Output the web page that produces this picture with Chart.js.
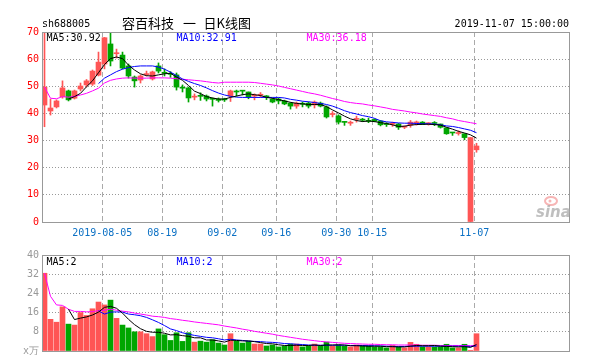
<!DOCTYPE html>
<html><head><meta charset="utf-8">
<script src="https://cdn.jsdelivr.net/npm/chart.js@4/dist/chart.umd.min.js"></script>
<style>
html,body{margin:0;padding:0;background:#fff;overflow:hidden;width:607px;height:355px;position:relative;}
#c1{position:absolute;left:0;top:0;width:607px;height:245px;}
#c2{position:absolute;left:0;top:245px;width:607px;height:140px;}
</style></head><body>
<canvas id="c1" width="607" height="245"></canvas>
<canvas id="c2" width="607" height="140"></canvas>
<script>
// ---------------- data ----------------
const dates = ['2019-07-22','2019-07-23','2019-07-24','2019-07-25','2019-07-26','2019-07-29','2019-07-30','2019-07-31',
'2019-08-01','2019-08-02','2019-08-05','2019-08-06','2019-08-07','2019-08-08','2019-08-09',
'2019-08-12','2019-08-13','2019-08-14','2019-08-15','2019-08-16',
'2019-08-19','2019-08-20','2019-08-21','2019-08-22','2019-08-23',
'2019-08-26','2019-08-27','2019-08-28','2019-08-29','2019-08-30',
'2019-09-02','2019-09-03','2019-09-04','2019-09-05','2019-09-06',
'2019-09-09','2019-09-10','2019-09-11','2019-09-12',
'2019-09-16','2019-09-17','2019-09-18','2019-09-19','2019-09-20',
'2019-09-23','2019-09-24','2019-09-25','2019-09-26','2019-09-27',
'2019-09-30',
'2019-10-08','2019-10-09','2019-10-10','2019-10-11',
'2019-10-14','2019-10-15','2019-10-16','2019-10-17','2019-10-18',
'2019-10-21','2019-10-22','2019-10-23','2019-10-24','2019-10-25',
'2019-10-28','2019-10-29','2019-10-30','2019-10-31',
'2019-11-01','2019-11-04','2019-11-05','2019-11-06','2019-11-07'];

const tickDates  = ['2019-08-05','2019-08-19','2019-09-02','2019-09-16','2019-09-30','2019-10-15','2019-11-07'];
const tickLabels = ['2019-08-05','08-19','09-02','09-16','09-30','10-15','11-07'];
const priceTicks = [0,10,20,30,40,50,60,70];
const volTicks   = [0,8,16,24,32,40];

const opens  = [43.1,40.9,42.4,46.1,48.3,45.6,49.0,50.5,50.8,54.1,58.2,65.6,62.0,61.5,57.5,53.4,52.3,54.3,52.7,57.5,
55.1,54.7,54.2,49.6,49.4,46.0,46.6,46.4,45.4,45.3,45.3,46.4,48.1,48.4,47.9,46.4,46.7,46.3,45.3,45.3,
44.6,43.8,42.7,43.6,43.8,43.1,43.8,42.4,39.6,39.1,36.9,36.4,37.8,37.9,37.4,37.8,37.2,36.0,36.0,36.1,
34.9,35.7,36.5,36.8,36.2,36.5,36.1,34.7,32.9,32.6,32.5,0,26.6];
const highs  = [70,45.3,45.0,52.0,48.6,48.6,51.2,52.5,56.0,62.6,68.0,70,63.7,62.6,58.2,53.8,54.2,55.6,55.6,58.6,
56.4,55.4,54.9,50.5,49.7,47.2,47.6,46.8,45.7,45.7,45.6,48.6,48.6,48.4,47.9,47.2,47.7,46.6,45.6,45.7,
44.9,44.0,44.2,44.2,44.2,44.6,44.2,42.8,40.7,39.5,37.0,37.2,39.0,38.2,38.3,38.0,37.4,36.6,36.8,36.3,
35.4,37.4,37.2,37.0,36.6,37.0,36.1,34.7,32.9,33.6,32.5,31.1,29.0];
const lows   = [35.1,39.4,42.0,45.6,44.6,45.3,48.3,49.8,50.3,53.8,56.4,57.5,60.4,56.4,53.0,49.7,51.2,53.8,52.3,54.9,
53.8,53.3,48.6,47.9,44.2,45.0,44.8,44.6,42.7,44.2,44.4,44.4,46.4,46.8,45.4,45.0,46.0,45.1,43.9,43.5,
43.2,41.6,41.9,42.4,42.0,42.0,42.4,38.3,38.7,36.1,35.6,35.6,36.8,37.0,36.6,36.9,35.4,35.2,35.2,34.1,
34.4,34.9,35.7,35.9,35.7,35.5,34.6,32.3,31.9,32.0,30.3,0,25.7];
const closes = [49.7,42.0,44.6,49.4,45.0,48.3,50.1,52.0,55.6,58.9,67.9,59.3,62.3,56.7,53.8,52.0,53.8,54.6,55.3,55.6,
54.8,54.4,49.7,49.3,45.7,46.3,46.3,45.3,45.2,44.8,45.0,48.3,47.9,48.2,46.1,46.7,47.0,46.1,44.2,44.6,
43.5,42.7,43.8,43.4,42.7,44.2,42.7,38.7,39.9,36.8,36.7,36.6,38.0,37.5,37.1,37.1,35.8,35.9,36.2,34.9,
35.1,36.8,36.7,35.9,36.4,36.3,34.9,32.5,32.8,32.9,31.1,31.1,28.0];

const ma5  = [null,null,null,null,45.3,46.2,47.4,49.8,52.0,55.0,58.0,60.2,60.8,60.2,57.8,56.0,54.6,53.9,53.8,54.2,
54.6,54.8,53.4,52.2,50.3,48.2,47.3,46.2,45.7,45.3,45.3,45.9,46.4,46.9,47.2,46.9,46.6,45.9,45.6,45.1,
44.6,44.1,43.7,43.5,43.3,43.3,43.3,42.5,41.3,40.2,39.0,38.0,37.4,37.0,37.2,37.0,36.6,36.3,35.8,35.2,
35.3,35.7,35.9,36.0,36.0,35.9,35.7,34.9,34.2,33.4,32.8,32.1,30.9];
const ma10 = [null,null,null,null,null,null,null,null,null,51.0,53.0,54.2,55.4,56.3,56.9,57.3,57.5,57.5,57.5,57.1,
56.3,55.2,54.0,52.7,51.8,51.0,50.3,49.4,48.4,47.5,46.8,46.3,46.0,45.9,45.9,45.9,45.9,45.9,45.9,45.9,
45.7,45.2,44.9,44.5,44.3,44.0,43.7,43.3,42.7,41.9,41.0,40.3,39.8,39.2,38.8,38.2,37.3,36.9,36.7,36.5,
36.4,36.4,36.3,36.2,36.2,36.1,35.8,35.4,35.2,34.8,34.3,33.8,32.9];
const ma30 = [49.7,45.6,45.4,46.2,46.0,46.3,46.8,47.4,48.3,49.3,51.2,52.2,52.7,53.0,53.1,53.0,53.0,53.0,53.1,53.1,
53.1,53.0,52.8,52.6,52.4,52.2,52.0,51.7,51.4,51.2,51.5,51.5,51.5,51.5,51.5,51.4,51.1,50.8,50.5,50.1,
49.6,49.1,48.6,48.1,47.6,47.2,46.7,46.1,45.5,45.0,44.4,44.0,43.7,43.5,43.1,42.8,42.4,42.0,41.5,41.2,
40.9,40.5,40.2,39.8,39.5,39.2,38.9,38.4,38.0,37.4,37.0,36.6,36.2];

const vols = [32.4,13.2,12.0,18.4,11.2,10.8,16.0,14.8,17.6,20.4,19.2,21.2,13.6,10.8,9.6,8.0,8.0,7.2,6.0,9.2,
6.8,4.4,7.6,4.0,7.6,3.7,4.1,3.7,4.7,3.3,2.5,7.2,4.1,3.3,4.1,2.9,2.9,2.1,2.5,1.7,
2.1,2.9,2.9,1.7,2.1,2.9,2.1,3.7,2.1,2.5,2.0,1.7,2.5,2.1,2.1,1.7,1.7,1.3,2.3,1.7,
1.3,3.6,2.8,1.7,1.7,1.7,1.7,2.8,1.3,1.3,2.8,0.3,7.2];
const vma5  = [null,null,null,null,17.4,13.1,13.7,14.2,15.0,16.2,18.2,18.6,17.8,15.8,13.2,11.0,9.3,8.2,7.8,7.8,
7.4,6.7,6.8,6.4,6.1,5.5,5.5,4.6,4.6,4.2,3.7,4.5,4.4,4.2,4.2,3.9,3.5,3.1,3.0,2.6,
2.3,2.3,2.4,2.3,2.3,2.5,2.3,2.5,2.5,2.6,2.5,2.2,2.2,2.1,2.0,2.0,2.0,1.8,1.8,1.7,
1.7,2.0,2.3,2.2,2.2,2.3,2.0,1.9,1.8,1.7,1.8,1.5,2.7];
const vma10 = [null,null,null,null,null,null,null,null,null,16.7,15.4,16.2,16.3,16.2,15.4,15.1,14.7,14.0,13.0,11.9,
10.6,9.2,8.5,7.6,7.0,6.5,6.1,5.7,5.5,5.1,4.6,4.9,4.6,4.4,4.1,4.0,3.9,3.7,3.6,3.4,
3.1,3.0,2.8,2.7,2.5,2.4,2.4,2.4,2.4,2.4,2.4,2.3,2.3,2.3,2.2,2.2,2.1,2.0,1.9,1.9,
1.9,2.0,2.0,2.0,2.0,2.0,2.0,2.0,2.0,2.0,2.0,1.9,2.1];
const vma30 = [32.4,22.8,19.2,19.0,17.4,16.5,16.5,16.3,16.4,16.8,17.0,17.4,17.0,16.6,16.3,15.8,15.4,15.0,14.5,14.3,
14.0,13.5,13.2,12.8,12.5,12.1,11.8,11.5,11.2,10.9,10.4,10.0,9.6,9.1,8.7,8.2,7.8,7.4,7.0,6.5,
6.1,5.7,5.3,4.9,4.6,4.3,4.0,3.8,3.6,3.4,3.2,3.1,3.0,2.9,2.8,2.8,2.7,2.6,2.6,2.5,
2.5,2.5,2.5,2.4,2.4,2.4,2.3,2.3,2.3,2.3,2.3,2.2,2.4];

const legendPrice = ['MA5:30.92','MA10:32.91','MA30:36.18'];
const legendVol   = ['MA5:2','MA10:2','MA30:2'];

// ---------------- styling ----------------
const RED = '#ff5555', GREEN = '#00a600';
const MONO = '"DejaVu Sans Mono", monospace';
const CJK = '"Noto Sans CJK SC", sans-serif';
const candleColors = closes.map((c, i) => c >= opens[i] ? RED : GREEN);
const tickIdx = tickDates.map(d => dates.indexOf(d));
const GRID_SHIFT = -0.37;
const X_MIN = -0.25, X_MAX = 87.417;

const pts = arr => arr.map((v, i) => ({x: i, y: v}));
const lineDS = (label, arr, color) => ({type: 'line', label, data: pts(arr), borderColor: color, borderWidth: 1,
  pointRadius: 0, tension: 0, spanGaps: false, order: 0});

function xScale(height, showLabels) {
  return {
    type: 'linear', min: X_MIN, max: X_MAX, offset: false,
    afterBuildTicks: s => { s.ticks = tickIdx.map(i => ({value: i + GRID_SHIFT})); },
    afterFit: s => { s.height = height; },
    ticks: {display: showLabels, autoSkip: false, maxRotation: 0, color: '#0b70c4',
      font: {family: MONO, size: 10}, padding: 5, callback: (v, idx) => tickLabels[idx]},
    grid: {color: '#aaaaaa', lineWidth: 1, drawTicks: false, offset: false},
    border: {display: false, dash: [5, 3]}
  };
}
function yScale(ticksArr, color, labelFn) {
  const lo = ticksArr[0], hi = ticksArr[ticksArr.length - 1];
  return {
    min: lo, max: hi,
    afterBuildTicks: s => { s.ticks = ticksArr.map(v => ({value: v})); },
    afterFit: s => { s.width = 43; },
    ticks: {color, font: {family: MONO, size: 10}, padding: 4, callback: labelFn},
    grid: {color: c => (c.tick && (c.tick.value === lo || c.tick.value === hi)) ? 'rgba(0,0,0,0)' : '#999999',
      drawTicks: false, lineWidth: 1},
    border: {display: false, dash: [1, 2]}
  };
}
function frame(ctx, a) {
  ctx.strokeStyle = '#999999'; ctx.lineWidth = 1; ctx.setLineDash([]);
  ctx.strokeRect(a.left - 0.5, a.top + 0.5, a.right - a.left + 1, a.bottom - a.top);
}
function legend(ctx, a, texts, baseline) {
  const cols = ['#000000', '#0000ff', '#ff00ff'];
  const offs = [3.5, 133.5, 263.5];
  ctx.font = '10px ' + MONO; ctx.textAlign = 'left'; ctx.textBaseline = 'alphabetic';
  texts.forEach((t, k) => { ctx.fillStyle = cols[k]; ctx.fillText(t, a.left + offs[k], baseline); });
}

const pricePlugin = {
  id: 'priceDeco',
  afterDraw(chart) {
    const ctx = chart.ctx, a = chart.chartArea;
    ctx.save();
    frame(ctx, a);
    legend(ctx, a, legendPrice, a.top + 8.5);
    // titles
    ctx.fillStyle = '#000'; ctx.textBaseline = 'alphabetic';
    ctx.font = '10px ' + MONO; ctx.textAlign = 'left';
    ctx.fillText('sh688005', a.left - 1, a.top - 5);
    ctx.textAlign = 'right';
    ctx.fillText('2019-11-07 15:00:00', a.right, a.top - 5);
    ctx.textAlign = 'left'; ctx.font = '13px ' + CJK;
    ctx.fillText('容百科技', 122, a.top - 4.5);
    ctx.fillText('一', 183, a.top - 4.5);
    ctx.fillText('日K线图', 203.5, a.top - 4.5);
    // sina watermark
    ctx.strokeStyle = 'rgba(240,120,120,0.55)'; ctx.lineWidth = 2;
    ctx.beginPath(); ctx.ellipse(a.right - 18, a.bottom - 21, 6, 4, 0, 0, Math.PI * 2); ctx.stroke();
    ctx.fillStyle = 'rgba(240,120,120,0.55)';
    ctx.beginPath(); ctx.arc(a.right - 19, a.bottom - 21, 1.5, 0, Math.PI * 2); ctx.fill();
    ctx.fillStyle = 'rgba(170,170,170,0.75)'; ctx.font = 'italic bold 15px "DejaVu Sans", sans-serif';
    ctx.fillText('sina', a.right - 33, a.bottom - 5);
    ctx.restore();
  }
};
const volPlugin = {
  id: 'volDeco',
  afterDraw(chart) {
    const ctx = chart.ctx, a = chart.chartArea;
    ctx.save();
    frame(ctx, a);
    legend(ctx, a, legendVol, a.top + 9.5);
    ctx.restore();
  }
};

new Chart(document.getElementById('c1'), {
  type: 'bar',
  data: {datasets: [
    lineDS('MA5', ma5, '#000000'),
    lineDS('MA10', ma10, '#0000ff'),
    lineDS('MA30', ma30, '#ff00ff'),
    {type: 'bar', label: 'body', data: opens.map((o, i) => ({x: i, y: [o, closes[i]]})),
      backgroundColor: candleColors, barThickness: 5, grouped: false, minBarLength: 1, borderWidth: 0, order: 1},
    {type: 'bar', label: 'wick', data: lows.map((l, i) => ({x: i, y: [l, highs[i]]})),
      backgroundColor: candleColors, barThickness: 1, grouped: false, minBarLength: 1, borderWidth: 0, order: 2}
  ]},
  options: {
    responsive: false, animation: false, devicePixelRatio: 1,
    layout: {padding: {top: 32, right: 38, left: 0, bottom: 0}},
    plugins: {legend: {display: false}, tooltip: {enabled: false}},
    scales: {x: xScale(23, true), y: yScale(priceTicks, '#ff0000', v => String(v))}
  },
  plugins: [pricePlugin]
});

new Chart(document.getElementById('c2'), {
  type: 'bar',
  data: {datasets: [
    lineDS('MA5', vma5, '#000000'),
    lineDS('MA10', vma10, '#0000ff'),
    lineDS('MA30', vma30, '#ff00ff'),
    {type: 'bar', label: 'vol', data: pts(vols), backgroundColor: candleColors, barThickness: 5,
      grouped: false, borderWidth: 0, order: 1}
  ]},
  options: {
    responsive: false, animation: false, devicePixelRatio: 1,
    layout: {padding: {top: 6, right: 38, left: 0, bottom: 0}},
    plugins: {legend: {display: false}, tooltip: {enabled: false}},
    scales: {x: xScale(34, false), y: yScale(volTicks, '#999999', v => v === 0 ? 'x万' : String(v))}
  },
  plugins: [volPlugin]
});
</script></body></html>
